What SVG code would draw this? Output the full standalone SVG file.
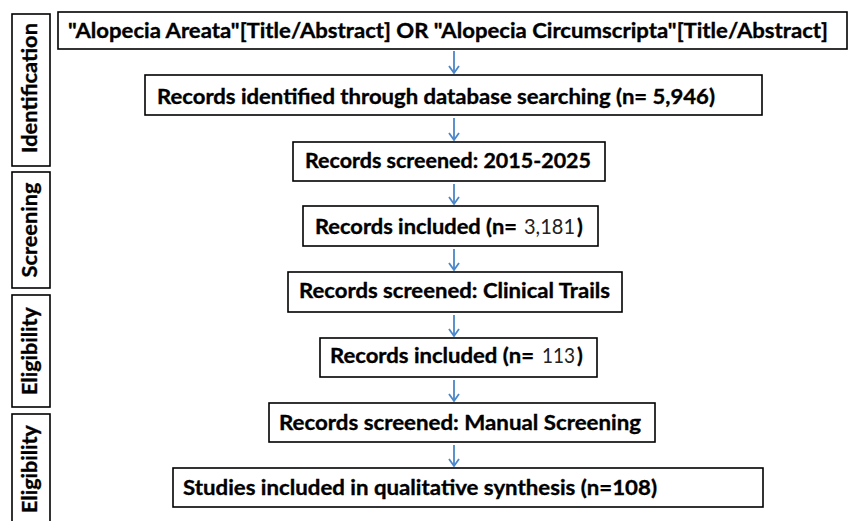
<svg xmlns="http://www.w3.org/2000/svg" width="849" height="521" viewBox="0 0 849 521">
<style>
.box{fill:#fff;stroke:#000;stroke-width:1.6}
.t{font-family:Lato,"Open Sans","Liberation Sans",sans-serif;font-weight:bold;font-size:21px;fill:#000;stroke:#000;stroke-width:0.35}
.n{font-family:Lato,"Open Sans","Liberation Sans",sans-serif;font-weight:normal;font-size:21px;fill:#222}
.side{font-family:Lato,"Open Sans","Liberation Sans",sans-serif;font-weight:bold;font-size:21px;fill:#000;stroke:#000;stroke-width:0.35;text-anchor:middle}
.arr{stroke:#4a86c8;stroke-width:1.8;fill:none}
</style>
<defs>
<marker id="ah" viewBox="0 0 10 12" refX="8" refY="6" markerWidth="10" markerHeight="12" markerUnits="userSpaceOnUse" orient="auto">
<path d="M1,1 L8,6 L1,11" fill="none" stroke="#4a86c8" stroke-width="1.8"/>
</marker>
</defs>
<rect width="849" height="521" fill="#fff"/>
<g id="side-identification"><rect class="box" x="12" y="14" width="38" height="152"/><text class="side" transform="translate(37,88) rotate(-90)" textLength="130" lengthAdjust="spacingAndGlyphs">Identification</text></g>
<g id="side-screening"><rect class="box" x="12" y="172" width="38" height="116"/><text class="side" transform="translate(37,230) rotate(-90)" textLength="95" lengthAdjust="spacingAndGlyphs">Screening</text></g>
<g id="side-eligibility1"><rect class="box" x="12" y="295" width="38" height="112"/><text class="side" transform="translate(37,351) rotate(-90)" textLength="88" lengthAdjust="spacingAndGlyphs">Eligibility</text></g>
<g id="side-eligibility2"><rect class="box" x="12" y="414" width="38" height="115"/><text class="side" transform="translate(37,469) rotate(-90)" textLength="88" lengthAdjust="spacingAndGlyphs">Eligibility</text></g>

<g id="connectors">
<line class="arr" x1="454" y1="51" x2="454" y2="73" marker-end="url(#ah)"/>
<line class="arr" x1="454" y1="118" x2="454" y2="140" marker-end="url(#ah)"/>
<line class="arr" x1="454" y1="184" x2="454" y2="204" marker-end="url(#ah)"/>
<line class="arr" x1="454" y1="249" x2="454" y2="270" marker-end="url(#ah)"/>
<line class="arr" x1="454" y1="315" x2="454" y2="336" marker-end="url(#ah)"/>
<line class="arr" x1="454" y1="380" x2="454" y2="401" marker-end="url(#ah)"/>
<line class="arr" x1="454" y1="445" x2="454" y2="466" marker-end="url(#ah)"/>
</g>

<g id="n1"><rect class="box" x="58" y="12" width="789" height="37"/><text class="t" x="68" y="38" textLength="760" lengthAdjust="spacingAndGlyphs">"Alopecia Areata"[Title/Abstract] OR "Alopecia Circumscripta"[Title/Abstract]</text></g>
<g id="n2"><rect class="box" x="145" y="75" width="617" height="40"/><text class="t" x="157" y="104" textLength="558" lengthAdjust="spacingAndGlyphs">Records identified through database searching (n= 5,946)</text></g>
<g id="n3"><rect class="box" x="293" y="142" width="312" height="39"/><text class="t" x="305" y="168" textLength="286" lengthAdjust="spacingAndGlyphs">Records screened: 2015-2025</text></g>
<g id="n4"><rect class="box" x="303" y="206" width="295" height="40"/><text class="t" x="315" y="234" textLength="202" lengthAdjust="spacingAndGlyphs">Records included (n=</text><text class="n" x="524" y="234" textLength="51" lengthAdjust="spacingAndGlyphs">3,181</text><text class="t" x="577" y="234">)</text></g>
<g id="n5"><rect class="box" x="288" y="272" width="334" height="40"/><text class="t" x="299" y="298" textLength="311" lengthAdjust="spacingAndGlyphs">Records screened: Clinical Trails</text></g>
<g id="n6"><rect class="box" x="320" y="338" width="277" height="39"/><text class="t" x="330" y="363" textLength="204" lengthAdjust="spacingAndGlyphs">Records included (n=</text><text class="n" x="542" y="363" textLength="33" lengthAdjust="spacingAndGlyphs">113</text><text class="t" x="577" y="363">)</text></g>
<g id="n7"><rect class="box" x="269" y="403" width="386" height="39"/><text class="t" x="279" y="430" textLength="362" lengthAdjust="spacingAndGlyphs">Records screened: Manual Screening</text></g>
<g id="n8"><rect class="box" x="173" y="468" width="590" height="39"/><text class="t" x="183" y="495" textLength="474" lengthAdjust="spacingAndGlyphs">Studies included in qualitative synthesis (n=108)</text></g>
</svg>
